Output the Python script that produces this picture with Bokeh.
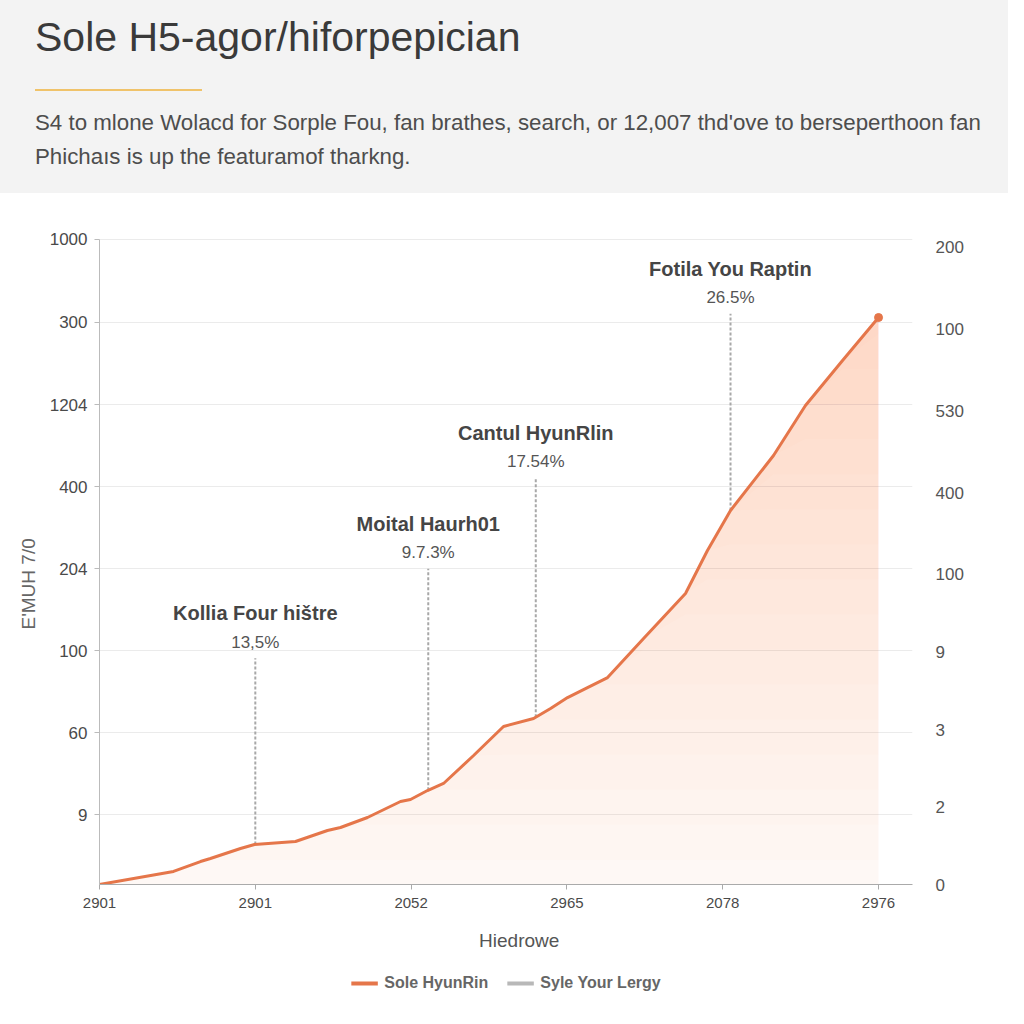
import numpy as np
from bokeh.plotting import figure
from bokeh.layouts import column
from bokeh.models import (Range1d, FixedTicker, LinearAxis, Legend, LegendItem, Div)
from bokeh.core.properties import value
from bokeh.embed import file_html
from bokeh.resources import INLINE

# ---------------- data ----------------
title_text = "Sole H5-agor/hiforpepician"
subtitle_1 = "S4 to mlone Wolacd for Sorple Fou, fan brathes, search, or 12,007 thd'ove to berseperthoon fan"
subtitle_2 = "Phichaıs is up the featuramof tharkng."

x_tick_pos = [0, 1, 2, 3, 4, 5]
x_tick_labels = ["2901", "2901", "2052", "2965", "2078", "2976"]

left_tick_pos = [0.85, 1.85, 2.85, 3.85, 4.85, 5.85, 6.86, 7.87]
left_tick_labels = ["9", "60", "100", "204", "400", "1204", "300", "1000"]

right_tick_pos = [0.0, 0.95, 1.89, 2.84, 3.79, 4.78, 5.78, 6.78, 7.77]
right_tick_labels = ["0", "2", "3", "9", "100", "400", "530", "100", "200"]

series_x = [0, 0.475, 0.648, 0.712, 0.905, 0.995, 1.258, 1.463, 1.547, 1.720,
            1.932, 1.996, 2.105, 2.208, 2.401, 2.593, 2.786, 2.895, 3.004, 3.132,
            3.261, 3.492, 3.761, 3.902, 4.050, 4.326, 4.531, 4.769, 5.0]
series_y = [0, 0.159, 0.280, 0.317, 0.439, 0.488, 0.524, 0.659, 0.695, 0.817,
            1.012, 1.037, 1.146, 1.232, 1.573, 1.927, 2.024, 2.146, 2.280, 2.402,
            2.524, 3.0, 3.549, 4.073, 4.561, 5.232, 5.841, 6.390, 6.915]

ann_x = [1.0, 2.11, 2.8, 4.05]
ann_top = [2.76, 3.85, 4.96, 6.96]
ann_names = ["Kollia Four hištre", "Moital Haurh01", "Cantul HyunRlin", "Fotila You Raptin"]
ann_pcts = ["13,5%", "9.7.3%", "17.54%", "26.5%"]

series_name = "Sole HyunRin"
marker_name = "Syle Your Lergy"
x_title = "Hiedrowe"
y_title = "E'MUH 7/0"

# ---------------- style ----------------
FONT = "Liberation Sans"
ORANGE = "#e5764a"
FILL = "#f09a74"
GREY_DASH = "#a8a8a8"
GREY_LEG = "#b8b8b8"
TXT = "#4a4a4a"
NBSP = "\u00a0"
W = 1008
HEADER_H = 193
MAIN_H = 764
LEG_H = 51

# ---------------- header ----------------
header_html = f"""
<div style="position:relative;width:{W}px;height:{HEADER_H}px;background:#f3f3f3;
            font-family:'Liberation Sans',Arial,sans-serif;overflow:hidden;margin:0;padding:0;">
  <div style="position:absolute;left:35px;top:17px;font-size:41px;line-height:41px;
              color:#3a3a3a;white-space:nowrap;">{title_text}</div>
  <div style="position:absolute;left:35px;top:89px;width:167px;height:2px;background:#f0c36a;"></div>
  <div style="position:absolute;left:35px;top:112px;font-size:22.3px;line-height:22px;
              color:#4d4d4d;white-space:nowrap;">{subtitle_1}</div>
  <div style="position:absolute;left:35px;top:146px;font-size:22.3px;line-height:22px;
              color:#4d4d4d;white-space:nowrap;">{subtitle_2}</div>
</div>
"""
header = Div(text=header_html, width=W, height=HEADER_H, margin=0)

# ---------------- main chart ----------------
p = figure(width=W, height=MAIN_H, x_range=Range1d(0, 5.218), y_range=Range1d(0, 7.976),
           output_backend="svg", toolbar_location=None,
           min_border_left=99, min_border_right=96, min_border_top=37, min_border_bottom=73)
p.outline_line_color = None
p.background_fill_color = "white"
p.border_fill_color = "white"

xs = np.array(series_x)
ys = np.array(series_y)

# gradient-like area fill built up from stacked translucent layers
p.varea(x=xs, y1=np.zeros_like(ys), y2=ys, fill_color=FILL, fill_alpha=0.07)
for t in np.linspace(0.3, ys.max() - 0.2, 16):
    p.varea(x=xs, y1=np.minimum(ys, t), y2=ys, fill_color=FILL, fill_alpha=0.021)

ann_bottom = np.interp(ann_x, xs, ys)
p.segment(x0=ann_x, y0=ann_bottom, x1=ann_x, y1=ann_top, line_color=GREY_DASH,
          line_width=2, line_dash="3 2")
p.text(x=ann_x, y=ann_top, text=ann_pcts, y_offset=-16, text_font=value(FONT),
       text_font_size="17px", text_color="#555555", text_align="center", text_baseline="middle")
p.text(x=ann_x, y=ann_top, text=ann_names, y_offset=-45, text_font=value(FONT),
       text_font_size="20px", text_font_style="bold", text_color="#454545",
       text_align="center", text_baseline="middle")

p.line(xs, ys, line_color=ORANGE, line_width=3)
p.scatter(xs[-1:], ys[-1:], size=8, color=ORANGE)

# axes
p.xaxis.ticker = FixedTicker(ticks=x_tick_pos)
p.xaxis.major_label_overrides = {k: v for k, v in zip(x_tick_pos, x_tick_labels)}
p.xaxis.axis_line_color = "#aaaaaa"
p.xaxis.major_tick_line_color = "#aaaaaa"
p.xaxis.major_tick_out = 5
p.xaxis.major_tick_in = 0
p.xaxis.minor_tick_line_color = None
p.xaxis.major_label_standoff = 8
p.xaxis.major_label_text_font = FONT
p.xaxis.major_label_text_font_size = "15px"
p.xaxis.major_label_text_color = TXT
p.xaxis.axis_label = NBSP * 5 + x_title
p.xaxis.axis_label_text_font = FONT
p.xaxis.axis_label_text_font_size = "19px"
p.xaxis.axis_label_text_font_style = "normal"
p.xaxis.axis_label_text_color = "#555555"
p.xaxis.axis_label_standoff = 19

p.yaxis.ticker = FixedTicker(ticks=left_tick_pos)
p.yaxis.major_label_overrides = {k: v for k, v in zip(left_tick_pos, left_tick_labels)}
p.yaxis.bounds = (0, left_tick_pos[-1])
p.yaxis.axis_line_color = "#bbbbbb"
p.yaxis.major_tick_line_color = "#bbbbbb"
p.yaxis.major_tick_out = 5
p.yaxis.major_tick_in = 0
p.yaxis.minor_tick_line_color = None
p.yaxis.major_label_standoff = 7
p.yaxis.major_label_text_font = FONT
p.yaxis.major_label_text_font_size = "17px"
p.yaxis.major_label_text_color = TXT
p.yaxis.axis_label = y_title + NBSP * 10
p.yaxis.axis_label_text_font = FONT
p.yaxis.axis_label_text_font_size = "19px"
p.yaxis.axis_label_text_font_style = "normal"
p.yaxis.axis_label_text_color = "#666666"
p.yaxis.axis_label_standoff = 8

right = LinearAxis(ticker=FixedTicker(ticks=right_tick_pos),
                   major_label_overrides={k: v for k, v in zip(right_tick_pos, right_tick_labels)},
                   axis_line_color=None, major_tick_line_color=None, minor_tick_line_color=None,
                   major_label_standoff=17, major_label_text_font=FONT,
                   major_label_text_font_size="17px", major_label_text_color="#555555")
p.add_layout(right, "right")

p.xgrid.visible = False
p.ygrid.grid_line_color = "#ebebeb"
p.ygrid.grid_line_width = 1

# ---------------- legend strip ----------------
# the strip's y range lies below all data, so its renderers only feed the legend swatches
lg = figure(width=W, height=LEG_H, output_backend="svg", toolbar_location=None,
            x_axis_location=None, y_axis_location=None, min_border=0,
            x_range=Range1d(0, 5.218), y_range=Range1d(-20, -19))
lg.grid.visible = False
lg.outline_line_color = None
l1 = lg.line(xs, ys, line_color=ORANGE, line_width=4)
l2 = lg.line(ann_x, ann_top, line_color=GREY_LEG, line_width=4)
legend = Legend(items=[LegendItem(label=series_name, renderers=[l1]),
                       LegendItem(label=marker_name, renderers=[l2])],
                orientation="horizontal", location="center",
                border_line_color=None, background_fill_alpha=0,
                label_text_font=FONT, label_text_font_size="16px", label_text_font_style="bold",
                label_text_color="#666666",
                glyph_width=27, glyph_height=20, label_standoff=7, spacing=18,
                margin=0, padding=5)
lg.add_layout(legend, "center")

layout = column(header, p, lg, spacing=0)
open("out.html", "w").write(file_html(layout, INLINE, title=title_text))
